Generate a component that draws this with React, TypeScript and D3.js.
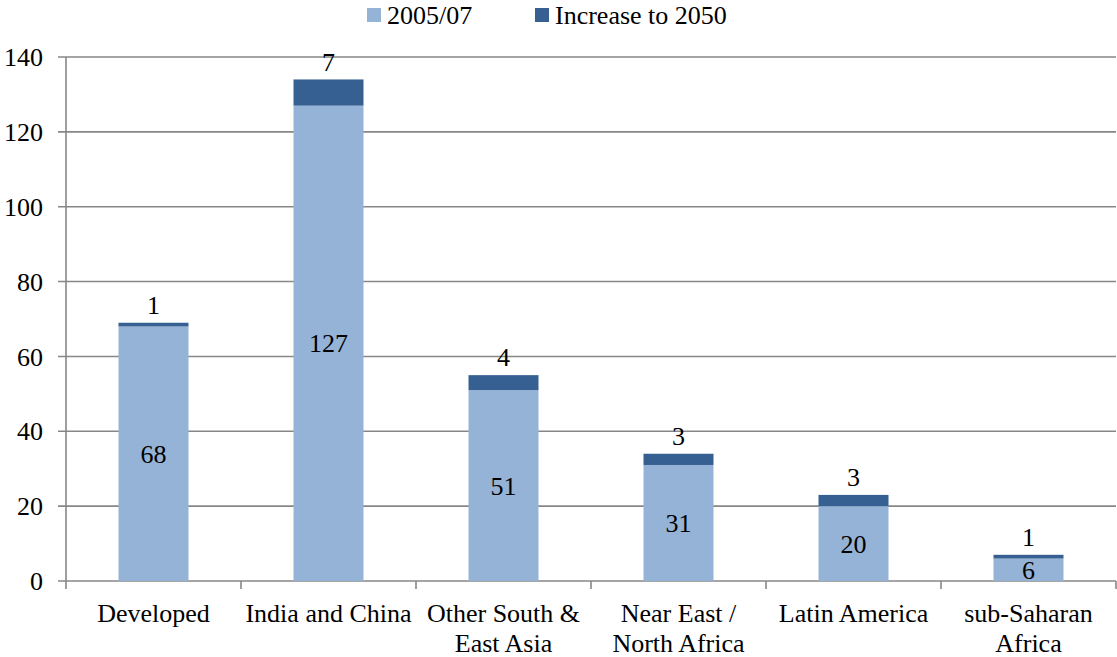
import React from "react";
import * as d3 from "d3";

const categories: string[][] = [
  ["Developed"],
  ["India and China"],
  ["Other South &", "East Asia"],
  ["Near East /", "North Africa"],
  ["Latin America"],
  ["sub-Saharan", "Africa"],
];
const base2005: number[] = [68, 127, 51, 31, 20, 6];
const increase2050: number[] = [1, 7, 4, 3, 3, 1];
const yTicks: number[] = [0, 20, 40, 60, 80, 100, 120, 140];
const seriesNames = ["2005/07", "Increase to 2050"];
const colors = ["#95B3D7", "#366092"];

const W = 1117;
const H = 657;
const left = 66;
const right = 1116;
const top = 57;
const bottom = 581;
const font = "'Liberation Serif', 'Times New Roman', serif";
const fs = 26;

export default function App() {
  const x = d3
    .scaleBand<number>()
    .domain(d3.range(categories.length))
    .range([left, right])
    .padding(0);
  const y = d3.scaleLinear().domain([0, 140]).range([bottom, top]);
  const barW = x.bandwidth() * 0.4;
  const grid = "#878787";

  return (
    <svg
      width={W}
      height={H}
      style={{ position: "absolute", left: 0, top: 0, background: "#fff" }}
      fontFamily={font}
    >
      {yTicks.map((t) => (
        <g key={t}>
          <line x1={left - 8} x2={right} y1={y(t)} y2={y(t)} stroke={grid} strokeWidth={1.6} />
          <text x={43} y={y(t)} dy="0.35em" textAnchor="end" fontSize={fs} fill="#000">
            {t}
          </text>
        </g>
      ))}
      <line x1={left} x2={left} y1={top} y2={bottom} stroke={grid} strokeWidth={1.6} />
      {d3.range(categories.length + 1).map((i) => {
        const xx = i < categories.length ? (x(i) as number) : right;
        return <line key={i} x1={xx} x2={xx} y1={bottom} y2={bottom + 8} stroke={grid} strokeWidth={1.6} />;
      })}
      {categories.map((lines, i) => {
        const cx = (x(i) as number) + x.bandwidth() / 2;
        const b = base2005[i];
        const inc = increase2050[i];
        return (
          <g key={i}>
            <rect x={cx - barW / 2} y={y(b)} width={barW} height={y(0) - y(b)} fill={colors[0]} />
            <rect x={cx - barW / 2} y={y(b + inc)} width={barW} height={y(b) - y(b + inc)} fill={colors[1]} />
            <text x={cx} y={(y(0) + y(b)) / 2} dy="0.35em" textAnchor="middle" fontSize={fs} fill="#000">
              {b}
            </text>
            <text x={cx} y={y(b + inc) - 18} dy="0.35em" textAnchor="middle" fontSize={fs} fill="#000">
              {inc}
            </text>
            {lines.map((ln, j) => (
              <text key={j} x={cx} y={613 + j * 30} dy="0.35em" textAnchor="middle" fontSize={fs} fill="#000">
                {ln}
              </text>
            ))}
          </g>
        );
      })}
      <g>
        <rect x={367} y={8} width={14} height={14} fill={colors[0]} />
        <text x={387} y={15} dy="0.35em" fontSize={fs} fill="#000">
          {seriesNames[0]}
        </text>
        <rect x={535} y={8} width={14} height={14} fill={colors[1]} />
        <text x={555} y={15} dy="0.35em" fontSize={fs} fill="#000">
          {seriesNames[1]}
        </text>
      </g>
    </svg>
  );
}
